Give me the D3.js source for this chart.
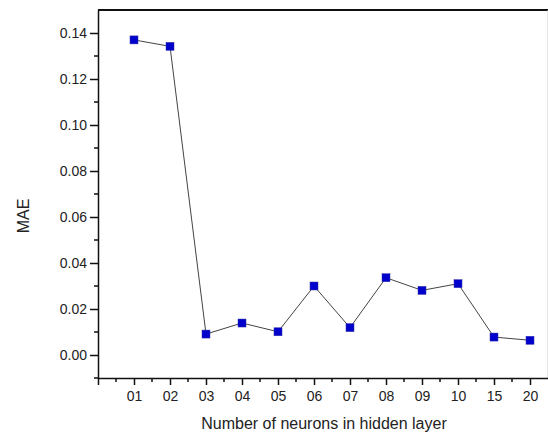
<!DOCTYPE html>
<html>
<head>
<meta charset="utf-8">
<script src="https://cdn.jsdelivr.net/npm/d3@7"></script>
<style>
  body { margin: 0; background: #fff; }
  svg { display: block; font-family: "Liberation Sans", Arial, sans-serif; }
</style>
</head>
<body>
<div id="chart"></div>
<script>
// data
const neurons = ["01", "02", "03", "04", "05", "06", "07", "08", "09", "10", "15", "20"]
const mae = [0.137, 0.1342, 0.0091, 0.0139, 0.0101, 0.0300, 0.0119, 0.0336, 0.0281, 0.0310, 0.0078, 0.0064]
const yTicks = [0.00, 0.02, 0.04, 0.06, 0.08, 0.10, 0.12, 0.14]

const width = 548
const height = 436
const margin = {top: 10, right: 1, bottom: 58, left: 98}
const innerWidth = width - margin.left - margin.right
const innerHeight = height - margin.top - margin.bottom

const svg = d3.select("#chart").append("svg")
              .attr("width", width)
              .attr("height", height)
const chart = svg.append("g")
                 .attr("transform", `translate(${margin.left}, ${margin.top})`)

// scales
const xScale = d3.scaleLinear()
                 .domain([0, 12.5])
                 .range([0, 450])
const yScale = d3.scaleLinear()
                 .domain([-0.01, 0.15])
                 .range([innerHeight, 0])

// frame: top and right
chart.append("line")
     .attr("x1", 0).attr("x2", xScale(12.5))
     .attr("y1", 0).attr("y2", 0)
     .attr("stroke", "#111").attr("stroke-width", 2)
chart.append("line")
     .attr("x1", xScale(12.5)).attr("x2", xScale(12.5))
     .attr("y1", 0).attr("y2", innerHeight)
     .attr("stroke", "#ccc").attr("stroke-width", 1)

// y axis
const yAxis = d3.axisLeft(yScale)
                .tickValues(yTicks)
                .tickFormat(d3.format(".2f"))
                .tickSize(8)
                .tickSizeOuter(0)
const yG = chart.append("g")
                .attr("class", "y-axis")
                .call(yAxis)
yG.select(".domain").attr("stroke", "#111").attr("stroke-width", 1.5)
yG.selectAll(".tick line").attr("stroke", "#111").attr("stroke-width", 1.5)
yG.selectAll("text")
  .attr("font-size", "14px")
  .attr("fill", "#222")
  .attr("x", -11)
chart.append("g")
     .selectAll("line")
     .data(d3.range(-0.01, 0.15, 0.02))
     .join("line")
     .attr("x1", -4).attr("x2", 0)
     .attr("y1", d => yScale(d)).attr("y2", d => yScale(d))
     .attr("stroke", "#111").attr("stroke-width", 1.5)

// x axis
const xAxis = d3.axisBottom(xScale)
                .tickValues(d3.range(0, 13))
                .tickFormat(d => d === 0 ? "" : neurons[d - 1])
                .tickSize(7)
                .tickSizeOuter(0)
const xG = chart.append("g")
                .attr("class", "x-axis")
                .attr("transform", `translate(0, ${innerHeight})`)
                .call(xAxis)
xG.select(".domain").attr("stroke", "#111").attr("stroke-width", 1.5)
xG.selectAll(".tick line").attr("stroke", "#111").attr("stroke-width", 1.5)
xG.selectAll("text")
  .filter(d => d === 0)
  .remove()
xG.selectAll("text")
  .attr("font-size", "14px")
  .attr("fill", "#222")
  .attr("y", 13)
chart.append("g")
     .attr("transform", `translate(0, ${innerHeight})`)
     .selectAll("line")
     .data(d3.range(0.5, 12.5, 1))
     .join("line")
     .attr("x1", d => xScale(d)).attr("x2", d => xScale(d))
     .attr("y1", 0).attr("y2", 4)
     .attr("stroke", "#111").attr("stroke-width", 1.5)

// line + markers
const line = d3.line()
               .x((d, i) => xScale(i + 1))
               .y(d => yScale(d))
chart.append("path")
     .datum(mae)
     .attr("d", line)
     .attr("fill", "none")
     .attr("stroke", "#444")
     .attr("stroke-width", 1)
chart.selectAll(".marker")
     .data(mae)
     .join("rect")
     .attr("class", "marker")
     .attr("x", (d, i) => xScale(i + 1) - 4)
     .attr("y", d => yScale(d) - 4)
     .attr("width", 8)
     .attr("height", 8)
     .attr("fill", "#0000cc")
     .attr("stroke", "#3333aa")
     .attr("stroke-width", 0.5)

// labels
svg.append("text")
   .attr("x", 324)
   .attr("y", 429)
   .attr("text-anchor", "middle")
   .attr("font-size", "16px")
   .attr("fill", "#222")
   .text("Number of neurons in hidden layer")
svg.append("text")
   .attr("transform", "translate(29, 216) rotate(-90)")
   .attr("text-anchor", "middle")
   .attr("font-size", "16px")
   .attr("fill", "#222")
   .text("MAE")
</script>
</body>
</html>
